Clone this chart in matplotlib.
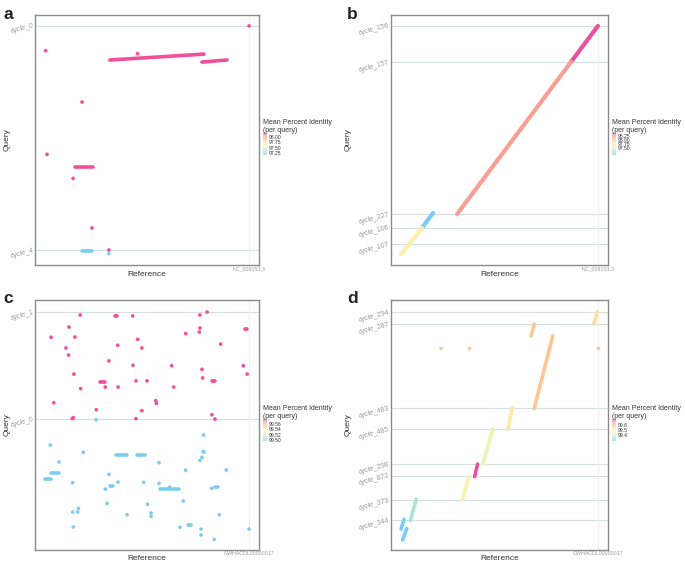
import matplotlib.pyplot as plt
from matplotlib.colors import LinearSegmentedColormap, Normalize
from matplotlib.cm import ScalarMappable

plt.rcParams['font.family'] = ['Liberation Sans', 'DejaVu Sans']

# ---------------- panel a ----------------
a_ticks = [100.2, 1.6]
a_labels = ['cycle_0', 'cycle_4']
a_ref = 'NC_009153.3'
a_seg_x0 = [31.8, 77.0, 14.7, 18.1]
a_seg_x1 = [78.0, 89.3, 23.6, 23.0]
a_seg_y0 = [85.2, 84.3, 38.1, 1.2]
a_seg_y1 = [87.8, 85.2, 38.1, 1.2]
a_seg_pid = [98.18, 98.18, 98.18, 97.17]
a_pt_x = [0.25, 45.4, 18.1, 0.9, 13.7, 23.0, 31.3, 100.1, 31.3]
a_pt_y = [89.3, 88.0, 66.7, 43.7, 33.1, 11.3, 1.6, 100.2, 0.0]
a_pt_pid = [98.18, 98.18, 98.18, 98.18, 98.18, 98.18, 98.18, 98.18, 97.17]
a_range = (97.17, 98.18)
a_cb_ticks = [98.00, 97.75, 97.50, 97.25]

# ---------------- panel b ----------------
b_ticks = [100.2, 84.3, 17.4, 11.3, 4.2]
b_labels = ['cycle_156', 'cycle_157', 'cycle_227', 'cycle_106', 'cycle_107']
b_ref = 'NC_009153.3'
b_seg_x0 = [99.9, 86.2, 10.7, 0.1]
b_seg_x1 = [86.2, 28.5, 16.3, 10.7]
b_seg_y0 = [100.2, 84.3, 11.3, -0.2]
b_seg_y1 = [84.3, 17.4, 17.9, 11.3]
b_seg_pid = [98.44, 98.20, 97.05, 97.75]
b_range = (97.05, 98.44)
b_cb_ticks = [98.25, 98.00, 97.75, 97.50]

# ---------------- panel c ----------------
c_ticks = [99.7, 52.6]
c_labels = ['cycle_1', 'cycle_0']
c_ref = 'GWHACDL00000017'
# query cycle_1 hits (high identity)
c_hi_x = [17.2, 34.8, 43.0, 76.0, 79.5, 11.7, 2.9, 14.6, 76.0, 75.7, 69.0,
          98.6, 45.4, 10.2, 35.6, 47.5, 86.2, 11.5, 31.3, 43.1, 62.1, 97.3,
          77.0, 14.1, 99.2, 44.6, 50.0, 77.3, 82.7, 17.4, 29.5, 35.8, 63.1,
          4.2, 54.3, 54.6, 25.1, 47.5, 81.9, 13.8, 13.2, 44.6, 83.4]
c_hi_y = [98.4, 98.1, 98.0, 98.4, 99.7, 93.1, 88.6, 88.7, 92.7, 90.9, 90.2,
          92.2, 87.7, 83.9, 85.1, 83.9, 85.6, 80.8, 78.2, 76.3, 76.1, 76.1,
          74.5, 72.4, 72.4, 69.4, 69.4, 70.7, 69.4, 66.0, 66.7, 66.7, 66.7,
          59.8, 60.7, 59.5, 56.7, 56.3, 54.5, 53.2, 52.8, 52.8, 52.6]
c_hi_seg_x0 = [26.9, 34.3, 98.0, 82.0]
c_hi_seg_x1 = [29.4, 35.3, 99.2, 83.4]
c_hi_seg_y = [68.9, 98.1, 92.2, 69.4]
# query cycle_0 hits (low identity)
c_lo_x = [25.0, 77.8, 2.5, 18.7, 77.8, 77.0, 76.0, 6.8, 55.9, 69.0, 88.9,
          31.3, 13.5, 35.8, 48.4, 55.9, 29.5, 61.1, 81.8, 67.8, 30.4, 50.3,
          16.3, 13.5, 16.0, 40.2, 52.0, 52.0, 85.5, 13.8, 66.2, 76.5, 100.1,
          76.5, 83.0]
c_lo_y = [52.3, 45.6, 41.2, 38.0, 38.3, 35.8, 34.5, 33.7, 33.4, 30.1, 30.2,
          28.3, 24.6, 24.9, 24.8, 24.3, 21.8, 22.7, 22.1, 16.6, 15.5, 15.1,
          13.3, 11.7, 11.7, 10.5, 11.3, 9.8, 10.5, 5.1, 5.0, 4.2, 4.2,
          1.6, -0.3]
c_lo_seg_x0 = [34.8, 45.1, 2.9, 0.0, 32.0, 56.4, 83.6, 70.3, 77.3]
c_lo_seg_x1 = [40.2, 49.0, 6.8, 2.9, 33.4, 65.7, 85.0, 71.6, 78.2]
c_lo_seg_y = [36.8, 36.8, 29.0, 26.1, 23.0, 21.8, 22.7, 6.1, 38.3]
c_range = (99.496, 99.58)
c_cb_ticks = [99.56, 99.54, 99.52, 99.50]

# ---------------- panel d ----------------
d_ticks = [99.7, 94.4, 57.5, 48.2, 32.8, 27.6, 17.0, 8.2]
d_labels = ['cycle_294', 'cycle_287', 'cycle_483', 'cycle_485',
            'cycle_298', 'cycle_872', 'cycle_373', 'cycle_344']
d_ref = 'GWHACDL00000017'
d_seg_x0 = [97.9, 66.0, 67.6, 54.2, 41.5, 37.4, 31.1, 4.8, 0.1, 0.9]
d_seg_x1 = [99.6, 67.6, 77.0, 56.5, 46.6, 38.9, 34.5, 7.8, 1.6, 3.0]
d_seg_y0 = [94.4, 89.2, 57.3, 48.2, 32.7, 27.3, 17.0, 7.9, 4.2, -0.6]
d_seg_y1 = [99.9, 94.4, 89.3, 57.5, 48.4, 32.8, 27.3, 17.4, 8.5, 4.5]
d_seg_pid = [99.53, 99.57, 99.57, 99.51, 99.46, 99.72, 99.48, 99.35, 99.27, 99.27]
d_pt_x = [20.3, 34.7, 100.1]
d_pt_y = [83.7, 83.7, 83.7]
d_pt_pid = [99.57, 99.57, 99.57]
d_range = (99.27, 99.72)
d_cb_ticks = [99.6, 99.5, 99.4]

# pastel ggplot-like rainbow: low -> high
cmap = LinearSegmentedColormap.from_list(
    'pid', ['#7ccbf2', '#a6e3d7', '#e2f5b4', '#faf2ab', '#fdc693', '#f99d92', '#ef4f9b'])

W, H = 685, 564
fig = plt.figure(figsize=(W / 100, H / 100), dpi=100)


def fx(px):
    return px / W


def fy(py):
    return 1 - py / H


def setup_axes(left, top, right, bottom, ticks, labels, ref, ylab_x):
    ax = fig.add_axes([fx(left), fy(bottom), fx(right - left), (bottom - top) / H])
    ax.set_xlim(-5, 105)
    ax.set_ylim(-5, 105)
    ax.set_xticks([100])
    ax.set_xticklabels([ref], fontsize=3.8, color='#9a9a9a')
    ax.set_yticks(ticks)
    ax.set_yticklabels(labels, fontsize=5, color='#9a9a9a')
    plt.setp(ax.get_yticklabels(), rotation=15, ha='right', va='center',
             rotation_mode='anchor')
    ax.tick_params(length=0, pad=1)
    for y in ticks:
        ax.axhline(y, color='#d5dfdf', lw=0.8, zorder=0)
    ax.axvline(100, color='#f0f0f0', lw=0.8, zorder=0)
    for sp in ax.spines.values():
        sp.set_color('#8a8a8a')
        sp.set_linewidth(1.0)
    ax.set_xlabel('Reference', fontsize=6, color='#333333')
    ax.xaxis.set_label_coords(0.5, -0.022)
    ax.set_ylabel('Query', fontsize=6, color='#333333')
    ax.yaxis.set_label_coords(ylab_x, 0.5)
    return ax


def legend(left, top, rng, cb_ticks, fmt):
    fig.text(fx(left), fy(top), 'Mean Percent Identity\n(per query)',
             fontsize=5, color='#333333', va='top', linespacing=1.15)
    cax = fig.add_axes([fx(left), fy(top + 36), 4 / W, 22.3 / H])
    norm = Normalize(*rng)
    cb = fig.colorbar(ScalarMappable(norm=norm, cmap=cmap), cax=cax, alpha=0.6)
    cb.outline.set_visible(False)
    cb.set_ticks(cb_ticks)
    cb.set_ticklabels([fmt.format(t) for t in cb_ticks])
    cb.ax.tick_params(length=0, labelsize=3.6, pad=1, labelcolor='#333333')
    return norm


def segs(ax, x0, x1, y0, y1, pid, norm, lw=2.6):
    for a, b, c, d, p in zip(x0, x1, y0, y1, pid):
        ax.plot([a, b], [c, d], color=cmap(norm(p)), lw=lw,
                solid_capstyle='round', zorder=3)


def pts(ax, x, y, pid, norm, s=7):
    ax.scatter(x, y, s=s, c=[cmap(norm(p)) for p in pid], linewidths=0, zorder=3)


# panel a
ax = setup_axes(35, 15, 259, 265, a_ticks, a_labels, a_ref, -0.11)
norm = legend(263, 119, a_range, a_cb_ticks, '{:.2f}')
segs(ax, a_seg_x0, a_seg_x1, a_seg_y0, a_seg_y1, a_seg_pid, norm)
pts(ax, a_pt_x, a_pt_y, a_pt_pid, norm)

# panel b
ax = setup_axes(391, 15, 608, 265, b_ticks, b_labels, b_ref, -0.18)
norm = legend(612, 119, b_range, b_cb_ticks, '{:.2f}')
segs(ax, b_seg_x0, b_seg_x1, b_seg_y0, b_seg_y1, b_seg_pid, norm, lw=3.0)

# panel c
ax = setup_axes(35, 300, 259, 550, c_ticks, c_labels, c_ref, -0.11)
norm = legend(263, 405, c_range, c_cb_ticks, '{:.2f}')
segs(ax, c_hi_seg_x0, c_hi_seg_x1, c_hi_seg_y, c_hi_seg_y,
     [c_range[1]] * len(c_hi_seg_y), norm)
pts(ax, c_hi_x, c_hi_y, [c_range[1]] * len(c_hi_x), norm)
segs(ax, c_lo_seg_x0, c_lo_seg_x1, c_lo_seg_y, c_lo_seg_y,
     [c_range[0]] * len(c_lo_seg_y), norm)
pts(ax, c_lo_x, c_lo_y, [c_range[0]] * len(c_lo_x), norm)

# panel d
ax = setup_axes(391, 300, 608, 550, d_ticks, d_labels, d_ref, -0.18)
norm = legend(612, 405, d_range, d_cb_ticks, '{:.1f}')
segs(ax, d_seg_x0, d_seg_x1, d_seg_y0, d_seg_y1, d_seg_pid, norm, lw=2.6)
pts(ax, d_pt_x, d_pt_y, d_pt_pid, norm)

# panel letters
for letter, px, py in [('a', 3, 19), ('b', 347, 19), ('c', 3, 303), ('d', 347, 303)]:
    fig.text(fx(px), fy(py), letter, fontsize=12.5, fontweight='bold',
             va='baseline', color='#222222')

fig.savefig('out.png', dpi=100)
